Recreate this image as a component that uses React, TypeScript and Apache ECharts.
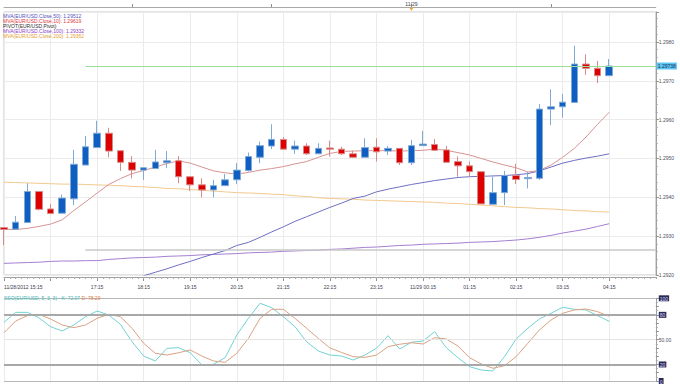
import React, { useEffect, useRef } from 'react';
import * as echarts from 'echarts';

// 15-minute bars, 11/28/2012 15:15 .. 11/29/2012 04:15
const times = [
  '15:15', '15:30', '15:45', '16:00', '16:15', '16:30', '16:45', '17:00', '17:15', '17:30',
  '17:45', '18:00', '18:15', '18:30', '18:45', '19:00', '19:15', '19:30', '19:45', '20:00',
  '20:15', '20:30', '20:45', '21:00', '21:15', '21:30', '21:45', '22:00', '22:15', '22:30',
  '22:45', '23:00', '23:15', '23:30', '23:45', '00:00', '00:15', '00:30', '00:45', '01:00',
  '01:15', '01:30', '01:45', '02:00', '02:15', '02:30', '02:45', '03:00', '03:15', '03:30',
  '03:45', '04:00', '04:15',
];
const padCats = ['04:30', '04:45', '05:00', '05:15'];

const opens = [
  1.29322, 1.29318, 1.29335, 1.29415, 1.29370, 1.29359, 1.29396, 1.29483, 1.29528, 1.29565,
  1.29520, 1.29490, 1.29470, 1.29474, 1.29489, 1.29494, 1.29453, 1.29432, 1.29419, 1.29430,
  1.29445, 1.29469, 1.29503, 1.29532, 1.29549, 1.29524, 1.29532, 1.29512, 1.29527, 1.29524,
  1.29512, 1.29503, 1.29529, 1.29519, 1.29526, 1.29489, 1.29533, 1.29536, 1.29522, 1.29492,
  1.29481, 1.29466, 1.29382, 1.29412, 1.29456, 1.29448, 1.29449, 1.29627, 1.29633, 1.29644,
  1.29743, 1.29732, 1.29713,
];
const closes = [
  1.29317, 1.29336, 1.29415, 1.29369, 1.29358, 1.29398, 1.29485, 1.29530, 1.29565, 1.29519,
  1.29490, 1.29470, 1.29476, 1.29491, 1.29494, 1.29453, 1.29432, 1.29419, 1.29430, 1.29445,
  1.29470, 1.29505, 1.29533, 1.29549, 1.29524, 1.29532, 1.29512, 1.29526, 1.29524, 1.29512,
  1.29503, 1.29528, 1.29517, 1.29526, 1.29489, 1.29533, 1.29537, 1.29521, 1.29490, 1.29481,
  1.29466, 1.29383, 1.29412, 1.29456, 1.29446, 1.29451, 1.29627, 1.29633, 1.29645, 1.29743,
  1.29732, 1.29713, 1.29738,
];
const lows = [
  1.29277, 1.29318, 1.29335, 1.29366, 1.29357, 1.29359, 1.29380, 1.29483, 1.29527, 1.29503,
  1.29468, 1.29449, 1.29445, 1.29474, 1.29475, 1.29436, 1.29416, 1.29400, 1.29400, 1.29430,
  1.29434, 1.29466, 1.29488, 1.29524, 1.29524, 1.29512, 1.29509, 1.29512, 1.29505, 1.29509,
  1.29501, 1.29503, 1.29492, 1.29509, 1.29483, 1.29483, 1.29533, 1.29519, 1.29489, 1.29453,
  1.29453, 1.29383, 1.29382, 1.29380, 1.29434, 1.29423, 1.29445, 1.29586, 1.29605, 1.29644,
  1.29715, 1.29694, 1.29713,
];
const highs = [
  1.29322, 1.29352, 1.29436, 1.29415, 1.29383, 1.29407, 1.29522, 1.29558, 1.29597, 1.29579,
  1.29520, 1.29506, 1.29476, 1.29522, 1.29519, 1.29506, 1.29453, 1.29449, 1.29445, 1.29460,
  1.29488, 1.29515, 1.29543, 1.29588, 1.29555, 1.29546, 1.29539, 1.29539, 1.29546, 1.29530,
  1.29520, 1.29552, 1.29552, 1.29532, 1.29526, 1.29548, 1.29571, 1.29550, 1.29532, 1.29505,
  1.29492, 1.29466, 1.29453, 1.29468, 1.29486, 1.29466, 1.29640, 1.29678, 1.29666, 1.29790,
  1.29768, 1.29751, 1.29756,
];

const ma10 = [
  1.29318, 1.29317, 1.29320, 1.29325, 1.29331, 1.29342, 1.29366, 1.29388, 1.29411, 1.29433,
  1.29448, 1.29461, 1.29469, 1.29478, 1.29487, 1.29494, 1.29488, 1.29478, 1.29468, 1.29463,
  1.29460, 1.29464, 1.29470, 1.29474, 1.29479, 1.29486, 1.29492, 1.29503, 1.29513, 1.29518,
  1.29519, 1.29520, 1.29520, 1.29520, 1.29519, 1.29520, 1.29521, 1.29524, 1.29521, 1.29515,
  1.29509, 1.29500, 1.29491, 1.29483, 1.29476, 1.29465, 1.29469, 1.29483, 1.29503, 1.29526,
  1.29555, 1.29588, 1.29619,
];
const ma50 = [
  null, null, null, null, null, null, null, null, null, null,
  1.29179, 1.29188, 1.29198, 1.29207, 1.29216, 1.29226, 1.29235, 1.29245, 1.29254, 1.29263,
  1.29276, 1.29284, 1.29297, 1.29311, 1.29324, 1.29338, 1.29350, 1.29362, 1.29374, 1.29385,
  1.29397, 1.29403, 1.29414, 1.29421, 1.29427, 1.29433, 1.29438, 1.29443, 1.29447, 1.29451,
  1.29453, 1.29454, 1.29455, 1.29456, 1.29458, 1.29461, 1.29468, 1.29478, 1.29488, 1.29495,
  1.29501, 1.29506, 1.29512,
];
const ma100 = [
  1.29230, 1.29231, 1.29232, 1.29233, 1.29235, 1.29236, 1.29236, 1.29237, 1.29237, 1.29240,
  1.29242, 1.29244, 1.29245, 1.29246, 1.29248, 1.29249, 1.29250, 1.29252, 1.29253, 1.29254,
  1.29255, 1.29257, 1.29258, 1.29259, 1.29261, 1.29262, 1.29263, 1.29264, 1.29266, 1.29267,
  1.29269, 1.29271, 1.29272, 1.29274, 1.29276, 1.29277, 1.29279, 1.29280, 1.29281, 1.29282,
  1.29284, 1.29285, 1.29286, 1.29288, 1.29290, 1.29293, 1.29297, 1.29302, 1.29308, 1.29313,
  1.29318, 1.29325, 1.29332,
];
const ma200 = [
  1.29439, 1.29438, 1.29437, 1.29436, 1.29435, 1.29434, 1.29434, 1.29433, 1.29432, 1.29431,
  1.29430, 1.29428, 1.29427, 1.29425, 1.29423, 1.29422, 1.29420, 1.29418, 1.29416, 1.29414,
  1.29412, 1.29411, 1.29410, 1.29408, 1.29407, 1.29404, 1.29402, 1.29399, 1.29397, 1.29396,
  1.29395, 1.29393, 1.29392, 1.29391, 1.29390, 1.29389, 1.29388, 1.29387, 1.29385, 1.29384,
  1.29382, 1.29380, 1.29378, 1.29376, 1.29374, 1.29373, 1.29371, 1.29370, 1.29368, 1.29366,
  1.29365, 1.29363, 1.29362,
];
const pivotLevel = 1.29264;
const lastPrice = 1.29738;

const stochK = [
  71, 83, 83, 76.5, 65.7, 60.5, 67.7, 77.8, 84.6, 79.8,
  68.6, 47.5, 30.2, 24.2, 39.5, 40.3, 34.2, 19.3, 20.2, 28.2,
  55.6, 75.8, 94, 88.6, 77.8, 65.7, 47.5, 36.3, 31.4, 30.2,
  25.4, 31.4, 39.5, 54.8, 38.7, 46.8, 48.4, 59.6, 40.3, 28.2,
  17.3, 13.3, 12.1, 29.4, 50.8, 63.7, 75, 81.9, 89.1, 86.7,
  85.9, 79, 72.07,
];
const stochD = [
  58.4, 72.5, 79, 80.6, 75, 67.7, 64.5, 67.7, 75.8, 80.6,
  77.8, 63.7, 45.6, 33.5, 31.4, 34.2, 37.5, 30.2, 24.2, 22.6,
  33.5, 51.6, 75.8, 86.7, 86.7, 75.8, 63.7, 51.6, 40, 34.5,
  29.4, 28.6, 31.4, 41.5, 44.4, 46.3, 44.7, 52.4, 50.8, 42.3,
  28.2, 20.6, 15.4, 18.5, 29.4, 45.6, 61.7, 73.8, 81.9, 85.9,
  87.1, 83.8, 78.29,
];
const stochLevels = [0, 20, 50, 80, 100];

const FONT = '"Liberation Sans", Arial, sans-serif';
const LAST = times.length - 1;

export default function App() {
  const ref = useRef<HTMLDivElement>(null);

  useEffect(() => {
    document.body.style.margin = '0';
    if (!ref.current) return;
    const chart = echarts.init(ref.current, undefined, { renderer: 'svg' });
    const cats = [...times, ...padCats];
    const halfTicks = Array.from({ length: (cats.length - 1) * 2 + 1 }, (_, i) => 'h' + i);
    const candles = times.map((_, i) => [opens[i], closes[i], lows[i], highs[i]]);
    const gridW = 651.8;
    const isHour = (i: number) => i % 4 === 0 && i <= LAST;

    const option: any = {
      animation: false,
      backgroundColor: '#ffffff',
      textStyle: { fontFamily: FONT },
      grid: [
        { left: 4, top: 12, width: gridW, height: 263, show: true, borderColor: '#c8c8c8', borderWidth: 1 },
        { left: 4, top: 298.3, width: gridW, height: 82.7, show: false },
      ],
      xAxis: [
        {
          type: 'category', gridIndex: 0, data: cats, boundaryGap: false, position: 'bottom', offset: 2,
          axisLine: { lineStyle: { color: '#a0a0a0' } },
          axisTick: { interval: (i: number) => isHour(i), length: 4, lineStyle: { color: '#909090' } },
          axisLabel: {
            interval: (i: number) => isHour(i) && i !== 4,
            fontSize: 5, color: '#404050', margin: 7, alignMinLabel: 'left',
            formatter: (v: string, i: number) => (i === 0 ? '11/28/2012 ' + v : i === 36 ? '11/29 ' + v : v),
          },
          splitLine: { show: true, interval: (i: number) => isHour(i), lineStyle: { color: '#ebebeb' } },
        },
        {
          type: 'category', gridIndex: 0, data: halfTicks, boundaryGap: false, position: 'bottom', offset: 2,
          axisLine: { show: false },
          axisTick: { interval: 0, length: 2, lineStyle: { color: '#a8a8a8' } },
          axisLabel: { show: false }, splitLine: { show: false },
        },
        {
          type: 'category', gridIndex: 0, data: cats, boundaryGap: false, position: 'top', offset: 5,
          axisLine: { lineStyle: { color: '#a8a8a8' } },
          axisTick: { interval: (i: number) => i === 11 || i === 23 || i === 35 || i === 47, length: 3, lineStyle: { color: '#909090' } },
          axisLabel: { interval: (i: number) => i === 35, formatter: () => '11/29', fontSize: 5, color: '#404050', margin: 1 },
          splitLine: { show: false },
        },
        {
          type: 'category', gridIndex: 1, data: cats, boundaryGap: false,
          axisLine: { show: false }, axisTick: { show: false }, axisLabel: { show: false },
          splitLine: { show: true, interval: (i: number) => isHour(i), lineStyle: { color: '#ebebeb' } },
        },
      ],
      yAxis: [
        {
          type: 'value', gridIndex: 0, position: 'right', min: 1.292, max: 1.29877, interval: 0.001,
          axisLine: { show: true, lineStyle: { color: '#a0a0a0' } },
          axisTick: { show: true, length: 3, lineStyle: { color: '#909090' } },
          minorTick: { show: true, splitNumber: 5, length: 2, lineStyle: { color: '#a8a8a8' } },
          axisLabel: { fontSize: 5, color: '#505060', margin: 3, showMaxLabel: false, formatter: (v: number) => v.toFixed(4) },
          splitLine: { show: true, lineStyle: { color: '#ebebeb' } },
        },
        {
          type: 'value', gridIndex: 1, position: 'right', min: 0, max: 100, interval: 10,
          axisLine: { show: true, lineStyle: { color: '#a0a0a0' } },
          axisTick: { show: true, length: 3, lineStyle: { color: '#909090' } },
          minorTick: { show: true, splitNumber: 2, length: 2, lineStyle: { color: '#a8a8a8' } },
          axisLabel: {
            margin: 3,
            formatter: (v: number) => (v === 50 ? '{p|50.00}' : stochLevels.includes(v) ? `{b|${v}}` : ''),
            rich: {
              p: { fontSize: 5, color: '#505060', fontFamily: FONT },
              b: { fontSize: 5, color: '#d8d8f0', backgroundColor: '#2b2b5a', padding: [1, 1, 0, 1], fontFamily: FONT },
            },
          },
          splitLine: { show: false },
        },
      ],
      series: [
        { type: 'line', xAxisIndex: 0, yAxisIndex: 0, data: ma200, symbol: 'none', lineStyle: { color: '#f2c98f', width: 1 }, z: 2 },
        { type: 'line', xAxisIndex: 0, yAxisIndex: 0, data: ma100, symbol: 'none', lineStyle: { color: '#a57fd0', width: 1 }, z: 2 },
        { type: 'line', xAxisIndex: 0, yAxisIndex: 0, data: ma50, symbol: 'none', lineStyle: { color: '#6f6fc6', width: 1 }, z: 2 },
        { type: 'line', xAxisIndex: 0, yAxisIndex: 0, data: ma10, symbol: 'none', lineStyle: { color: '#d99393', width: 1 }, z: 2 },
        {
          type: 'candlestick', xAxisIndex: 0, yAxisIndex: 0, data: candles, barWidth: 7, clip: false, z: 3,
          itemStyle: { color: '#0f5fc2', color0: '#dc0000', borderColor: '#7fa9d6', borderColor0: '#d88a8a', borderWidth: 1 },
          markLine: {
            silent: true, symbol: 'none', animation: false,
            data: [
              [
                { coord: [7, pivotLevel], lineStyle: { color: '#c8c8c8', width: 1.5, type: 'solid' }, label: { show: false } },
                { coord: [cats.length - 1, pivotLevel] },
              ],
              [
                {
                  coord: [7, lastPrice], lineStyle: { color: '#98e098', width: 1, type: 'solid' },
                  label: {
                    show: true, position: 'end', distance: 1, formatter: lastPrice.toFixed(5), fontSize: 5,
                    color: '#1a2a5a', backgroundColor: '#5cc6f2', padding: [1, 1, 1, 1], fontFamily: FONT,
                  },
                },
                { coord: [cats.length - 1, lastPrice] },
              ],
            ],
          },
        },
        {
          type: 'line', xAxisIndex: 3, yAxisIndex: 1, data: stochK, symbol: 'none', lineStyle: { color: '#72d2d2', width: 1 }, z: 3,
          markLine: {
            silent: true, symbol: 'none', label: { show: false },
            data: stochLevels.map((v) => ({
              yAxis: v,
              lineStyle: {
                type: 'solid',
                color: v === 20 || v === 80 ? '#a8a8a8' : v === 50 ? '#e4e4e4' : '#b8b8b8',
                width: v === 20 || v === 80 ? 2 : 1,
              },
            })),
          },
        },
        { type: 'line', xAxisIndex: 3, yAxisIndex: 1, data: stochD, symbol: 'none', lineStyle: { color: '#d9a282', width: 1 }, z: 3 },
      ],
    };
    chart.setOption(option);

    const mx = chart.convertToPixel({ xAxisIndex: 2 }, times[35]) as number;
    const legendRows = [
      { text: `MVA(EUR/USD.Close,50): ${ma50[LAST]!.toFixed(5)}`, fill: '#5050c0' },
      { text: `MVA(EUR/USD.Close,10): ${ma10[LAST].toFixed(5)}`, fill: '#e03838' },
      { text: 'PIVOT(EUR/USD,Pivot)', fill: '#303030' },
      { text: `MVA(EUR/USD.Close,100): ${ma100[LAST].toFixed(5)}`, fill: '#8a40c8' },
      { text: `MVA(EUR/USD.Close,200): ${ma200[LAST].toFixed(5)}`, fill: '#e2a030' },
    ];
    const graphics: any[] = legendRows.map((r, k) => ({
      type: 'text', x: 3, y: 15.7 + k * 5, z: 10,
      style: { text: r.text, fill: r.fill, fontSize: 5, fontFamily: FONT, verticalAlign: 'middle' },
    }));
    graphics.push({
      type: 'text', x: 4, y: 297.5, z: 10,
      style: {
        text: `{k|SSO(EUR/USD, 5, 3, 3) - K: ${stochK[LAST].toFixed(2)}} {d|D: ${stochD[LAST].toFixed(2)}}`,
        verticalAlign: 'middle', fontFamily: FONT, fontSize: 5,
        rich: {
          k: { fill: '#3cb8b8', fontSize: 5, fontFamily: FONT },
          d: { fill: '#e07a40', fontSize: 5, fontFamily: FONT },
        },
      },
    });
    graphics.push({
      type: 'polygon', z: 10,
      shape: { points: [[mx - 2, 7.5], [mx + 2, 7.5], [mx, 11]] },
      style: { fill: '#f0a030' },
    });
    chart.setOption({ graphic: graphics });

    return () => chart.dispose();
  }, []);

  return <div ref={ref} style={{ width: 680, height: 385 }} />;
}
